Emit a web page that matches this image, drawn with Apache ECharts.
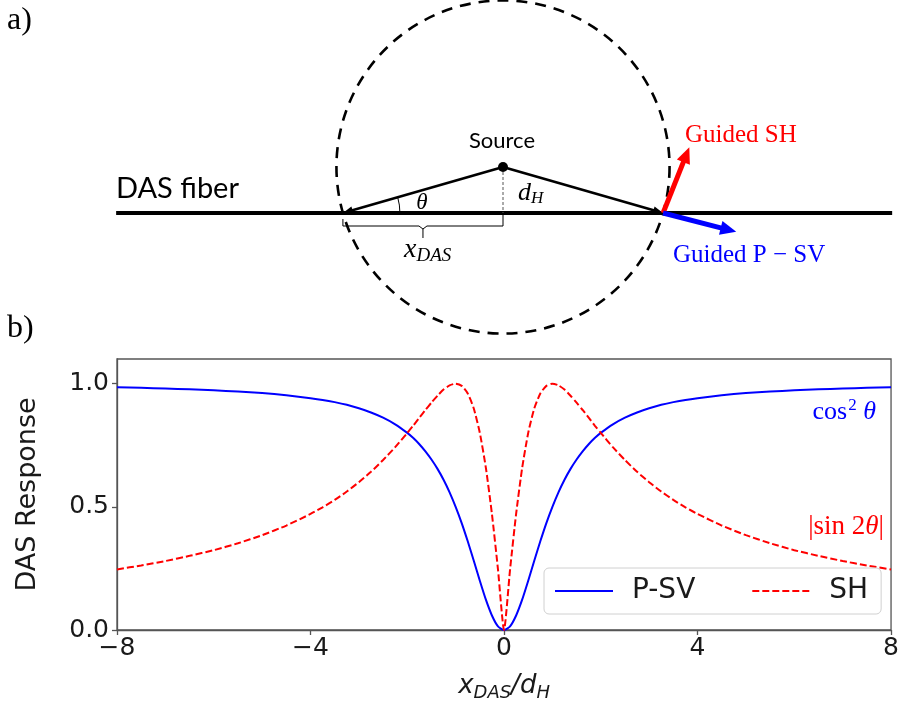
<!DOCTYPE html>
<html>
<head>
<meta charset="utf-8">
<script src="https://cdn.jsdelivr.net/npm/echarts@6/dist/echarts.min.js"></script>
<style>
  html, body { margin: 0; padding: 0; background: #ffffff; }
  #chart { width: 902px; height: 703px; }
</style>
</head>
<body>
<div id="chart"></div>
<script>
// Receiver offset along the fibre, normalised by source depth (x_DAS / d_H)
const offsetRatio = [
  -8, -7.5, -7, -6.5, -6, -5.5, -5, -4.5, -4, -3.75, -3.5, -3.25, -3, -2.75, -2.5, -2.25, -2,
  -1.875, -1.75, -1.625, -1.5, -1.375, -1.25, -1.125,
  -1, -0.875, -0.75, -0.625, -0.5, -0.375, -0.25, -0.125, 0,
  0.125, 0.25, 0.375, 0.5, 0.625, 0.75, 0.875, 1,
  1.125, 1.25, 1.375, 1.5, 1.625, 1.75, 1.875,
  2, 2.25, 2.5, 2.75, 3, 3.25, 3.5, 3.75, 4, 4.5, 5, 5.5, 6, 6.5, 7, 7.5, 8
];
// Guided P-SV response (cos^2 theta)
const psvResponse = [
  0.985, 0.983, 0.980, 0.977, 0.973, 0.968, 0.962, 0.953, 0.941, 0.934, 0.925, 0.914, 0.900, 0.883, 0.862, 0.835, 0.800,
  0.779, 0.754, 0.725, 0.692, 0.654, 0.610, 0.559,
  0.500, 0.434, 0.360, 0.281, 0.200, 0.123, 0.059, 0.015, 0.000,
  0.015, 0.059, 0.123, 0.200, 0.281, 0.360, 0.434, 0.500,
  0.559, 0.610, 0.654, 0.692, 0.725, 0.754, 0.779,
  0.800, 0.835, 0.862, 0.883, 0.900, 0.914, 0.925, 0.934, 0.941, 0.953, 0.962, 0.968, 0.973, 0.977, 0.980, 0.983, 0.985
];
// Guided SH response (|sin 2 theta|)
const shResponse = [
  0.246, 0.262, 0.280, 0.301, 0.324, 0.352, 0.385, 0.424, 0.471, 0.498, 0.528, 0.562, 0.600, 0.642, 0.690, 0.742, 0.800,
  0.830, 0.862, 0.893, 0.923, 0.951, 0.976, 0.993,
  1.000, 0.991, 0.960, 0.899, 0.800, 0.658, 0.471, 0.246, 0.000,
  0.246, 0.471, 0.658, 0.800, 0.899, 0.960, 0.991, 1.000,
  0.993, 0.976, 0.951, 0.923, 0.893, 0.862, 0.830,
  0.800, 0.742, 0.690, 0.642, 0.600, 0.562, 0.528, 0.498, 0.471, 0.424, 0.385, 0.352, 0.324, 0.301, 0.280, 0.262, 0.246
];
const xTickValues = [-8, -4, 0, 4, 8];
const yTickValues = [0, 0.5, 1.0];
const seriesNames = ['P-SV', 'SH'];

// Sketch geometry in units of the source depth d_H
const sourcePoint = [0, 1];
const receiverOffset = 3.48;
const fiberSpan = [-8.41, 8.46];
const guidedShTip = [4.05, 1.43];
const guidedPsvTip = [5.07, -0.41];

// Sketch panel scale: pixels per d_H and where the fibre/source vertical meet
const SKETCH_SCALE = 46;
const SKETCH_ORIGIN = [503, 213];
const SKETCH_HEIGHT = 340;
const CHART_W = 902;

const psvData = offsetRatio.map((x, i) => [x, psvResponse[i]]);
const shData = offsetRatio.map((x, i) => [x, shResponse[i]]);

function arrowShapes(a, b, width, headLen, headWidth, color) {
  const dx = b[0] - a[0], dy = b[1] - a[1];
  const len = Math.hypot(dx, dy);
  const ux = dx / len, uy = dy / len;
  const base = [b[0] - ux * headLen, b[1] - uy * headLen];
  return [
    { type: 'line', shape: { x1: a[0], y1: a[1], x2: base[0] + ux, y2: base[1] + uy },
      style: { stroke: color, lineWidth: width } },
    { type: 'polygon', shape: { points: [
        [b[0], b[1]],
        [base[0] - uy * headWidth / 2, base[1] + ux * headWidth / 2],
        [base[0] + uy * headWidth / 2, base[1] - ux * headWidth / 2]
      ] }, style: { fill: color } }
  ];
}

function renderSketch(params, api) {
  const src = api.coord(sourcePoint);
  const foot = api.coord([sourcePoint[0], 0]);
  const left = api.coord([-receiverOffset, 0]);
  const right = api.coord([receiverOffset, 0]);
  const f0 = api.coord([fiberSpan[0], 0]);
  const f1 = api.coord([fiberSpan[1], 0]);
  const shTip = api.coord(guidedShTip);
  const psvTip = api.coord(guidedPsvTip);
  const radius = Math.hypot(right[0] - src[0], right[1] - src[1]);
  const theta = Math.atan2(foot[1] - src[1], src[0] - left[0]);
  const braceY = foot[1] + 13;
  const mid = (left[0] + foot[0]) / 2;

  const children = [
    // wavefront
    { type: 'circle', shape: { cx: src[0], cy: src[1], r: radius },
      style: { fill: null, stroke: '#000', lineWidth: 2.6, lineDash: [11, 8] } },
    // fibre
    { type: 'line', shape: { x1: f0[0], y1: f0[1], x2: f1[0], y2: f1[1] },
      style: { stroke: '#000', lineWidth: 4 } },
    // depth marker
    { type: 'line', shape: { x1: src[0], y1: src[1], x2: foot[0], y2: foot[1] },
      style: { stroke: '#555', lineWidth: 1, lineDash: [3, 2] } },
    // x_DAS brace
    { type: 'polyline', shape: { points: [
        [left[0], foot[1] + 6], [left[0], braceY], [mid - 4, braceY], [mid, braceY + 3],
        [mid + 4, braceY], [foot[0], braceY], [foot[0], foot[1] + 2]
      ] }, style: { stroke: '#000', lineWidth: 1, fill: null } },
    { type: 'line', shape: { x1: mid, y1: braceY + 3, x2: mid, y2: braceY + 12 },
      style: { stroke: '#000', lineWidth: 1 } },
    // incidence angle
    { type: 'arc', shape: { cx: left[0], cy: left[1], r: 57, startAngle: -theta, endAngle: 0, clockwise: true },
      style: { stroke: '#000', lineWidth: 1, fill: null } },
    // source
    { type: 'circle', shape: { cx: src[0], cy: src[1], r: 5 }, style: { fill: '#000' } }
  ];
  children.push(...arrowShapes(src, left, 2.6, 10, 8, '#000'));
  children.push(...arrowShapes(src, right, 2.6, 10, 8, '#000'));
  children.push(...arrowShapes(right, shTip, 5, 16, 14, '#ff0000'));
  children.push(...arrowShapes(right, psvTip, 5, 16, 14, '#0000ff'));
  return { type: 'group', children };
}

const serifItalic = { fontFamily: 'Liberation Serif', fontStyle: 'italic' };

const chart = echarts.init(document.getElementById('chart'), null, { renderer: 'canvas' });

chart.setOption({
  animation: false,
  backgroundColor: '#ffffff',
  grid: [
    { left: 117, top: 359, width: 776, height: 271, show: true, borderColor: '#555', borderWidth: 1.3,
      containLabel: false },
    { left: 0, top: 0, width: CHART_W, height: SKETCH_HEIGHT, containLabel: false }
  ],
  xAxis: [
    {
      type: 'value', gridIndex: 0, min: -8, max: 8, interval: 4,
      axisLine: { show: true, onZero: false, lineStyle: { color: '#555', width: 1.3 } },
      axisTick: { show: true, inside: false, length: 5, lineStyle: { color: '#555', width: 1.3 } },
      splitLine: { show: false },
      axisLabel: {
        color: '#1a1a1a', fontFamily: 'DejaVu Sans', fontSize: 25, margin: 6,
        formatter: v => xTickValues.includes(v) ? String(v).replace('-', '\u2212') : ''
      },
      name: '{i|x}{s|DAS}{i|/d}{s|H}',
      nameLocation: 'middle', nameGap: 40,
      nameTextStyle: {
        rich: {
          i: { fontFamily: 'DejaVu Sans', fontStyle: 'italic', fontSize: 26, color: '#1a1a1a' },
          s: { fontFamily: 'DejaVu Sans', fontStyle: 'italic', fontSize: 18, color: '#1a1a1a', padding: [14, 0, 0, 0] }
        }
      }
    },
    {
      type: 'value', gridIndex: 1,
      min: -SKETCH_ORIGIN[0] / SKETCH_SCALE, max: (CHART_W - SKETCH_ORIGIN[0]) / SKETCH_SCALE,
      show: false
    }
  ],
  yAxis: [
    {
      type: 'value', gridIndex: 0, min: 0, max: 1.1,
      axisLine: { show: true, onZero: false, lineStyle: { color: '#555', width: 1.3 } },
      axisTick: { show: true, length: 5, customValues: yTickValues, lineStyle: { color: '#555', width: 1.3 } },
      splitLine: { show: false },
      axisLabel: {
        color: '#1a1a1a', fontFamily: 'DejaVu Sans', fontSize: 25, margin: 8,
        customValues: yTickValues, formatter: v => v.toFixed(1)
      },
      name: 'DAS Response', nameLocation: 'middle', nameGap: 76, nameRotate: 90,
      nameTextStyle: { fontFamily: 'DejaVu Sans', fontSize: 27, color: '#1a1a1a' }
    },
    {
      type: 'value', gridIndex: 1,
      min: (SKETCH_ORIGIN[1] - SKETCH_HEIGHT) / SKETCH_SCALE, max: SKETCH_ORIGIN[1] / SKETCH_SCALE,
      show: false
    }
  ],
  legend: {
    data: seriesNames,
    left: 544, top: 568,
    orient: 'horizontal',
    itemWidth: 58, itemHeight: 14, itemGap: 56,
    padding: [9, 13, 9, 10],
    borderColor: '#d0d0d0', borderWidth: 1, borderRadius: 5,
    backgroundColor: 'rgba(255,255,255,0.8)',
    itemStyle: { opacity: 0 },
    textStyle: { fontFamily: 'DejaVu Sans', fontSize: 28, color: '#1a1a1a', padding: [0, 0, 0, 14] }
  },
  series: [
    {
      name: seriesNames[0], type: 'line', xAxisIndex: 0, yAxisIndex: 0,
      data: psvData, symbol: 'none', smooth: 0.2,
      lineStyle: { color: '#0000ff', width: 2 }, itemStyle: { color: '#0000ff' }, z: 3
    },
    {
      name: seriesNames[1], type: 'line', xAxisIndex: 0, yAxisIndex: 0,
      data: shData, symbol: 'none', smooth: 0.2,
      lineStyle: { color: '#ff0000', width: 2, type: [7, 3] }, itemStyle: { color: '#ff0000' }, z: 3
    },
    {
      type: 'custom', xAxisIndex: 1, yAxisIndex: 1, clip: false, silent: true,
      data: [[0, 0]], renderItem: renderSketch
    }
  ],
  graphic: [
    { type: 'text', left: 7, top: 5, style: { text: 'a)', font: '32px "Liberation Serif"', fill: '#000' } },
    { type: 'text', left: 7, top: 313, style: { text: 'b)', font: '32px "Liberation Serif"', fill: '#000' } },
    { type: 'text', x: 116, y: 189, style: { text: 'DAS fiber', font: '29px Lato', fill: '#000', verticalAlign: 'middle' } },
    { type: 'text', x: 502, y: 141, style: { text: 'Source', font: '22px Lato', fill: '#000', align: 'center', verticalAlign: 'middle' } },
    { type: 'text', x: 422, y: 203, style: { text: '\u03b8', font: 'italic 23px "Liberation Serif"', fill: '#000', align: 'center', verticalAlign: 'middle' } },
    { type: 'text', x: 518, y: 193, style: {
        text: '{i|d}{s|H}', verticalAlign: 'middle',
        rich: { i: { ...serifItalic, fontSize: 26, fill: '#000' }, s: { ...serifItalic, fontSize: 17, fill: '#000', padding: [12, 0, 0, 0] } }
      } },
    { type: 'text', x: 404, y: 250, style: {
        text: '{i|x}{s|DAS}', verticalAlign: 'middle',
        rich: { i: { ...serifItalic, fontSize: 28, fill: '#000' }, s: { ...serifItalic, fontSize: 19, fill: '#000', padding: [12, 0, 0, 0] } }
      } },
    { type: 'text', x: 685, y: 135, style: { text: 'Guided SH', font: '25px "Liberation Serif"', fill: '#ff0000', verticalAlign: 'middle' } },
    { type: 'text', x: 673, y: 255, style: { text: 'Guided P \u2212 SV', font: '25px "Liberation Serif"', fill: '#0000ff', verticalAlign: 'middle' } },
    { type: 'text', x: 876, y: 412, style: {
        text: '{a|cos}{s|2}{a| }{t|\u03b8}', align: 'right', verticalAlign: 'middle',
        rich: {
          a: { fontFamily: 'Liberation Serif', fontSize: 26, fill: '#0000ff' },
          s: { fontFamily: 'Liberation Serif', fontSize: 17, fill: '#0000ff', padding: [0, 0, 12, 1] },
          t: { ...serifItalic, fontSize: 26, fill: '#0000ff' }
        }
      } },
    { type: 'text', x: 884, y: 527, style: {
        text: '{a||sin 2}{t|\u03b8}{a||}', align: 'right', verticalAlign: 'middle',
        rich: {
          a: { fontFamily: 'Liberation Serif', fontSize: 27, fill: '#ff0000' },
          t: { ...serifItalic, fontSize: 27, fill: '#ff0000' }
        }
      } }
  ]
});
</script>
</body>
</html>
